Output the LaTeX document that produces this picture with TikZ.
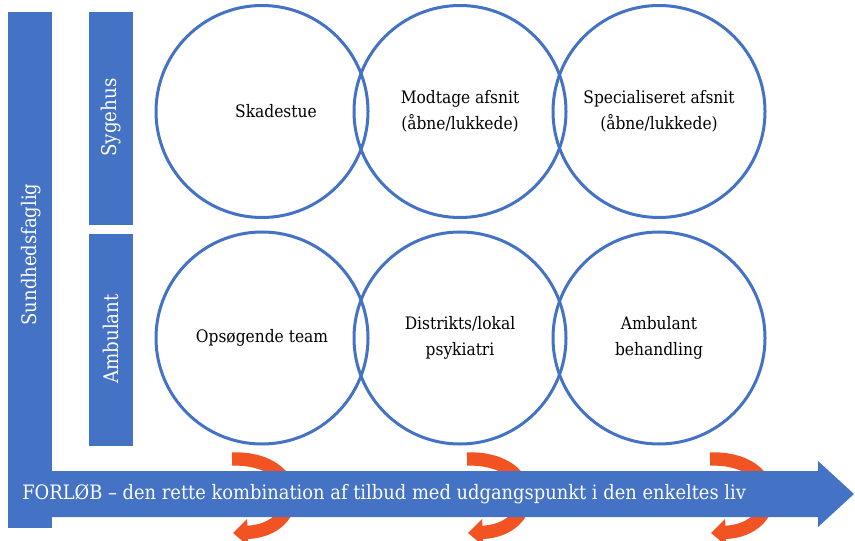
\documentclass[tikz,border=0pt]{standalone}
\usepackage{fontspec}
\setmainfont{DejaVu Serif Condensed}
\usepackage{tikz}
\usetikzlibrary{positioning,arrows.meta}
\definecolor{barblue}{RGB}{68,114,196}
\definecolor{turnorange}{RGB}{241,83,34}

\tikzset{
  ring/.style={circle,draw=barblue,line width=2.25pt,minimum size=159pt,inner sep=0pt,
    align=center,font=\fontsize{12.9}{19.5}\selectfont},
  lbl/.style={font=\fontsize{12.9}{19.5}\selectfont},
  bar/.style={fill=barblue,text=white,inner sep=0pt,font=\fontsize{15.2}{18}\selectfont},
  turn/.style={turnorange,line width=10pt,-{Triangle[length=11pt,width=19.5pt]}}
}

\begin{document}
\begin{tikzpicture}[x=0.75pt,y=-0.75pt]
    \useasboundingbox (0,0) rectangle (855,541);
    % Turn arrows (behind the main arrow)
    \foreach \cx/\nm in {232/ta,467/tb,710/tc}{
      \coordinate (\nm s) at (\cx,459);
      \coordinate (\nm e) at (\cx+1,533);
      \draw[turn] (\nm s) .. controls ++(74,-2) and ++(73,-3) .. (\nm e);
    }
    % Main arrow
    \node[bar,minimum width=33pt,minimum height=387pt] (sund) at (30,270) {};
    \node[bar,rotate=90,font=\fontsize{15}{18}\selectfont] (sundtxt) at (31,254.5) {Sundhedsfaglig};
    \fill[barblue] (52,471) coordinate (body) -- (818,471) -- (818,461) -- (854,494) coordinate (tip)
        -- (818,527) -- (818,517) -- (52,517) -- cycle;
    \node[bar,fill=none,anchor=west,font=\fontsize{14.9}{18}\selectfont] (forlob) at (22,494)
        {FORLØB – den rette kombination af tilbud med udgangspunkt i den enkeltes liv};
    % Side bars
    \node[bar,minimum width=33pt,minimum height=159.75pt] (syg) at (111,118.5) {};
    \node[bar,rotate=90] (sygtxt) at (111,117.5) {Sygehus};
    \node[bar,minimum width=33pt,minimum height=159pt] (amb) at (111,340) {};
    \node[bar,rotate=90] (ambtxt) at (111,339) {Ambulant};
    % Sygehus row
    \node[ring,label={[lbl,xshift=10.5pt]center:Skadestue}] (skade) at (262,111.5) {};
    \node[ring] (modtag) at (460,111.5) {Modtage afsnit\\(åbne/lukkede)};
    \node[ring] (special) at (659,111.5) {Specialiseret afsnit\\(åbne/lukkede)};
    % Ambulant row
    \node[ring] (opsoeg) at (262,338) {Opsøgende team};
    \node[ring] (distrikt) at (460,338) {Distrikts/lokal\\psykiatri};
    \node[ring] (ambbeh) at (659,338) {Ambulant\\behandling};
\end{tikzpicture}
\end{document}
